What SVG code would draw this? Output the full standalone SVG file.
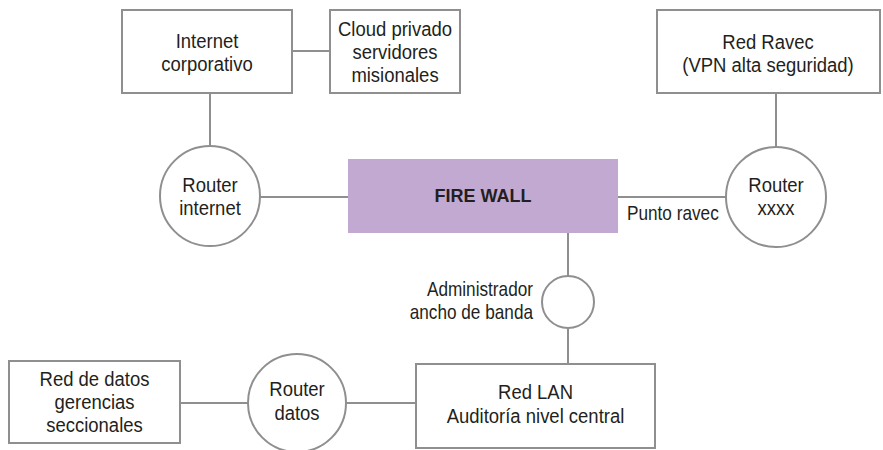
<svg xmlns="http://www.w3.org/2000/svg" width="883" height="450" viewBox="0 0 883 450">
<style>
.box{fill:#fff;stroke:#8f8f8f;stroke-width:2}
.rt{fill:#fff;stroke:#8f8f8f;stroke-width:2}
.fw{fill:#c2a9d1;stroke:none}
.ln{stroke:#8f8f8f;stroke-width:2;fill:none}
.t{font-family:"Liberation Sans",Arial,sans-serif;font-size:21px;fill:#231f20;text-anchor:middle}
.lb{font-family:"Liberation Sans",Arial,sans-serif;font-size:20px;fill:#231f20}
.b{font-family:"Liberation Sans",Arial,sans-serif;font-size:18px;font-weight:bold;fill:#231f20;text-anchor:middle}
</style>
<rect width="883" height="450" fill="#fff"/>
<g id="connectors">
<line class="ln" x1="292" y1="51" x2="330" y2="51"/>
<line class="ln" x1="210" y1="93" x2="210" y2="146"/>
<line class="ln" x1="260" y1="197" x2="348" y2="197"/>
<line class="ln" x1="618" y1="197" x2="726" y2="197"/>
<line class="ln" x1="776" y1="93" x2="776" y2="147"/>
<line class="ln" x1="568" y1="233" x2="568" y2="276"/>
<line class="ln" x1="568" y1="328" x2="568" y2="364"/>
<line class="ln" x1="346" y1="403" x2="416" y2="403"/>
<line class="ln" x1="180" y1="403" x2="248" y2="403"/>
<text class="lb" transform="translate(627 0) scale(0.86 1)" y="220">Punto ravec</text>
<text class="lb" text-anchor="end" transform="translate(533 0) scale(0.86 1)"><tspan x="0" y="296">Administrador</tspan><tspan x="0" y="319">ancho de banda</tspan></text>
</g>
<g id="internet-corporativo">
<rect class="box" x="122" y="10" width="170" height="83"/>
<text class="t" transform="translate(207 0) scale(0.88 1)"><tspan x="0" y="48">Internet</tspan><tspan x="0" y="71">corporativo</tspan></text>
</g>
<g id="cloud-privado">
<rect class="box" x="330" y="10" width="130" height="83"/>
<text class="t" transform="translate(395 0) scale(0.88 1)"><tspan x="0" y="36">Cloud privado</tspan><tspan x="0" y="59">servidores</tspan><tspan x="0" y="82">misionales</tspan></text>
</g>
<g id="red-ravec">
<rect class="box" x="657" y="10" width="223" height="83"/>
<text class="t" transform="translate(768 0) scale(0.88 1)"><tspan x="0" y="49">Red Ravec</tspan><tspan x="0" y="72">(VPN alta seguridad)</tspan></text>
</g>
<g id="router-internet">
<circle class="rt" cx="210" cy="196" r="50"/>
<text class="t" transform="translate(210 0) scale(0.88 1)"><tspan x="0" y="192">Router</tspan><tspan x="0" y="215">internet</tspan></text>
</g>
<g id="firewall">
<rect class="fw" x="348" y="159" width="270" height="74"/>
<text class="b" x="483" y="202">FIRE WALL</text>
</g>
<g id="router-xxxx">
<circle class="rt" cx="776" cy="197" r="50"/>
<text class="t" transform="translate(776 0) scale(0.88 1)"><tspan x="0" y="192">Router</tspan><tspan x="0" y="215">xxxx</tspan></text>
</g>
<g id="administrador">
<circle class="rt" cx="568" cy="302" r="26"/>
</g>
<g id="red-lan">
<rect class="box" x="416" y="364" width="239" height="84"/>
<text class="t" transform="translate(535.5 0) scale(0.88 1)"><tspan x="0" y="399">Red LAN</tspan><tspan x="0" y="423">Auditoría nivel central</tspan></text>
</g>
<g id="router-datos">
<circle class="rt" cx="297" cy="403" r="49"/>
<text class="t" transform="translate(297 0) scale(0.88 1)"><tspan x="0" y="396">Router</tspan><tspan x="0" y="420">datos</tspan></text>
</g>
<g id="red-datos">
<rect class="box" x="9" y="361" width="171" height="82"/>
<text class="t" transform="translate(94.5 0) scale(0.88 1)"><tspan x="0" y="386">Red de datos</tspan><tspan x="0" y="409">gerencias</tspan><tspan x="0" y="432">seccionales</tspan></text>
</g>
</svg>
